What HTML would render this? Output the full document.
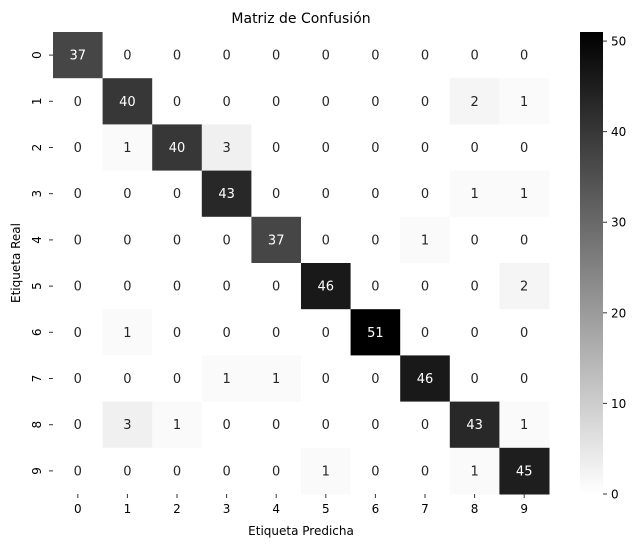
<!DOCTYPE html>
<html><head><meta charset="utf-8"><style>
body{margin:0;background:#fff;width:640px;height:547px;overflow:hidden;font-family:"Liberation Sans","DejaVu Sans",sans-serif}
svg text{font-family:"DejaVu Sans","Liberation Sans",sans-serif}
</style></head><body>
<svg id="chart" width="640" height="547" xmlns="http://www.w3.org/2000/svg">
<defs><linearGradient id="cbg" x1="0" y1="1" x2="0" y2="0"><stop offset="0" stop-color="#fff"/><stop offset="1" stop-color="#000"/></linearGradient></defs>
<text x="301" y="23" font-size="14" text-anchor="middle">Matriz de Confusión</text>
<text x="301" y="535" font-size="12" text-anchor="middle">Etiqueta Predicha</text>
<text x="0" y="0" font-size="12" text-anchor="middle" transform="translate(20,263) rotate(-90)">Etiqueta Real</text>
<g id="cells"></g>
<rect x="580" y="32" width="23" height="462" fill="url(#cbg)"/>
<g id="cbticks"></g>
</svg>
<script>
const labels=["0","1","2","3","4","5","6","7","8","9"];
const matrix=[
[37,0,0,0,0,0,0,0,0,0],
[0,40,0,0,0,0,0,0,2,1],
[0,1,40,3,0,0,0,0,0,0],
[0,0,0,43,0,0,0,0,1,1],
[0,0,0,0,37,0,0,1,0,0],
[0,0,0,0,0,46,0,0,0,2],
[0,1,0,0,0,0,51,0,0,0],
[0,0,0,1,1,0,0,46,0,0],
[0,3,1,0,0,0,0,0,43,1],
[0,0,0,0,0,1,0,0,1,45]];
const cbTicks=[0,10,20,30,40,50];
const vmax=51;
const X0=53,Y0=32,W=496,H=462,n=labels.length,cw=W/n,ch=H/n;
const NS="http://www.w3.org/2000/svg";
const g=document.getElementById('cells'),cb=document.getElementById('cbticks'),svg=document.getElementById('chart');
function mk(t,a,p){const e=document.createElementNS(NS,t);for(const k in a)e.setAttribute(k,a[k]);p.appendChild(e);return e;}
matrix.forEach((row,i)=>row.forEach((v,j)=>{
 const l=Math.round(255*(1-v/vmax));
 const r=mk('rect',{x:X0+j*cw,y:Y0+i*ch,width:cw+0.5,height:ch+0.5,fill:`rgb(${l},${l},${l})`},g);
 
 
 const t=mk('text',{x:X0+(j+.5)*cw,y:Y0+(i+.5)*ch+4.5,'font-size':13,'text-anchor':'middle',fill:l<150?'#fff':'#262626'},g);
 t.textContent=v;
 
 
}));
labels.forEach((s,i)=>{
 const xc=X0+(i+.5)*cw;
 mk('line',{x1:xc,x2:xc,y1:Y0+H,y2:Y0+H+4,stroke:'#333'},svg);
 const t=mk('text',{x:xc,y:Y0+H+19,'font-size':12,'text-anchor':'middle'},svg);
 t.textContent=s;
 
 
 const yc=Y0+(i+.5)*ch;
 mk('line',{x1:X0-4,x2:X0,y1:yc,y2:yc,stroke:'#333'},svg);
 const u=mk('text',{x:0,y:0,'font-size':12,'text-anchor':'middle',transform:`translate(${X0-12},${yc}) rotate(-90)`},svg);
 u.textContent=s;
 
 
});
cbTicks.forEach(v=>{
 const y=Y0+H-v/vmax*H;
 mk('line',{x1:603,x2:607,y1:y,y2:y,stroke:'#333'},cb);
 const t=mk('text',{x:611,y:y+4.5,'font-size':12},cb);
 t.textContent=v;
 
 
});
</script>
</body></html>
